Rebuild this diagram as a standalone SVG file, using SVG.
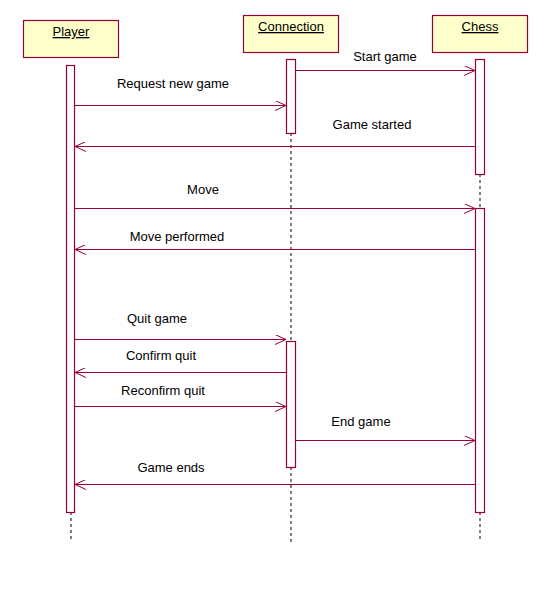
<svg xmlns="http://www.w3.org/2000/svg" width="559" height="591" viewBox="0 0 559 591">
<defs>
<style>
.obj{fill:#ffffcc;stroke:#990033;stroke-width:1.2}
.act{fill:#ffffff;stroke:#990033;stroke-width:1.2}
.life{stroke:#000;stroke-width:1;stroke-dasharray:3,3;fill:none}
.msg{stroke:#990033;stroke-width:1.2;fill:none;marker-end:url(#arr)}
.lbl{font-family:"Liberation Sans",Arial,sans-serif;font-size:13px;fill:#000;text-anchor:middle}
.name{font-family:"Liberation Sans",Arial,sans-serif;font-size:13px;fill:#000;text-anchor:middle;text-decoration:underline}
</style>
<marker id="arr" markerWidth="12" markerHeight="10" refX="11" refY="5" orient="auto" markerUnits="userSpaceOnUse">
<path d="M0,0 L11,5 L0,10" fill="none" stroke="#990033" stroke-width="1"/>
</marker>
</defs>
<rect width="559" height="591" fill="#ffffff"/>
<g id="lifelines">
<line class="life" x1="71" y1="512" x2="71" y2="542"/>
<line class="life" x1="291" y1="133" x2="291" y2="341"/>
<line class="life" x1="291" y1="467" x2="291" y2="542"/>
<line class="life" x1="480" y1="174" x2="480" y2="208"/>
<line class="life" x1="480" y1="512" x2="480" y2="542"/>
</g>
<g id="player">
<rect class="obj" x="23.5" y="20.5" width="95" height="37"/>
<text class="name" x="71" y="36">Player</text>
<rect class="act" x="66.5" y="65.5" width="8" height="447"/>
</g>
<g id="connection">
<rect class="obj" x="243.5" y="15.5" width="95" height="37"/>
<text class="name" x="291" y="31">Connection</text>
<rect class="act" x="286.5" y="59.5" width="9" height="74"/>
<rect class="act" x="286.5" y="341.5" width="9" height="126"/>
</g>
<g id="chess">
<rect class="obj" x="432.5" y="15.5" width="95" height="37"/>
<text class="name" x="480" y="31">Chess</text>
<rect class="act" x="475.5" y="59.5" width="9" height="115"/>
<rect class="act" x="475.5" y="208.5" width="9" height="304"/>
</g>
<g id="connectors">
<line class="msg" x1="295.5" y1="70.5" x2="475" y2="70.5"/>
<text class="lbl" x="385" y="61">Start game</text>
<line class="msg" x1="74.5" y1="105.5" x2="286" y2="105.5"/>
<text class="lbl" x="173" y="88">Request new game</text>
<line class="msg" x1="475.5" y1="146.5" x2="75" y2="146.5"/>
<text class="lbl" x="372" y="129">Game started</text>
<line class="msg" x1="74.5" y1="208.5" x2="475" y2="208.5"/>
<text class="lbl" x="203" y="194">Move</text>
<line class="msg" x1="475.5" y1="249.5" x2="75" y2="249.5"/>
<text class="lbl" x="177" y="241">Move performed</text>
<line class="msg" x1="74.5" y1="339.5" x2="286" y2="339.5"/>
<text class="lbl" x="157" y="323">Quit game</text>
<line class="msg" x1="286.5" y1="372.5" x2="75" y2="372.5"/>
<text class="lbl" x="161" y="360">Confirm quit</text>
<line class="msg" x1="74.5" y1="406.5" x2="286" y2="406.5"/>
<text class="lbl" x="163" y="395">Reconfirm quit</text>
<line class="msg" x1="295.5" y1="440.5" x2="475" y2="440.5"/>
<text class="lbl" x="361" y="426">End game</text>
<line class="msg" x1="475.5" y1="484.5" x2="75" y2="484.5"/>
<text class="lbl" x="171" y="472">Game ends</text>
</g>
</svg>
